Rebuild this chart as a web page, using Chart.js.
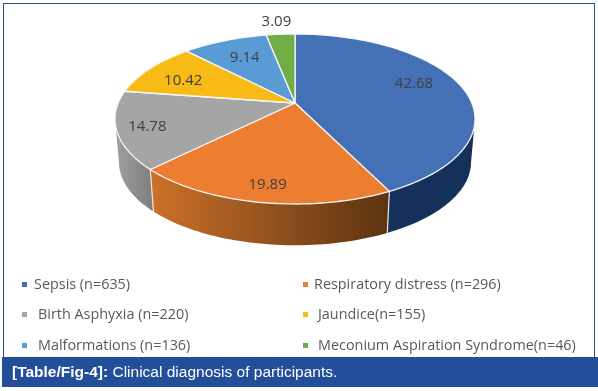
<!DOCTYPE html>
<html lang="en">
<head>
  <meta charset="UTF-8" />
  <title>Clinical diagnosis of participants</title>
  <script src="https://cdn.jsdelivr.net/npm/chart.js"></script>
  <style>
    html, body { margin: 0; padding: 0; background: white; }
    body { width: 598px; height: 391px; position: relative; overflow: hidden; }
    .frame {
      position: absolute; left: 3px; top: 3px; width: 590px; height: 354px;
      border: 1px solid #2c5288; border-bottom: none;
    }
    canvas { position: absolute; left: 0; top: 0; }
    .legendItem {
      position: absolute; font: 14.4px 'Open Sans', sans-serif; color: #595959;
      white-space: nowrap; line-height: 16px;
    }
    .legendMark { position: absolute; width: 5px; height: 5px; }
    .caption {
      position: absolute; left: 2px; top: 357px; width: 596px; height: 30px;
      background: #234e9a; color: white;
      font: 15.5px/30px 'Liberation Sans', Arial, sans-serif;
      text-indent: 10px; white-space: nowrap;
    }
  </style>
</head>
<body>
  <div class="frame"></div>
  <canvas id="pieChart" width="598" height="357"></canvas>
  <div id="legend"></div>
  <div class="caption"><b>[Table/Fig-4]:</b> Clinical diagnosis of participants.</div>

  <script>
    const categories = ['Sepsis (n=635)', 'Respiratory distress (n=296)', 'Birth Asphyxia (n=220)',
      'Jaundice(n=155)', 'Malformations (n=136)', 'Meconium Aspiration Syndrome(n=46)'];
    const percents = [42.68, 19.89, 14.78, 10.42, 9.14, 3.09];
    const faceColors = ['#4470b6', '#ed7d31', '#a5a5a5', '#f8ba14', '#5b9bd5', '#70ad47'];
    const wallLeft = ['#16305c', '#cb712a', '#a0a0a0', '#f8ba14', '#5b9bd5', '#70ad47'];
    const wallRight = ['#16305c', '#5c3311', '#7d7d7d', '#f8ba14', '#5b9bd5', '#70ad47'];

    // label nudges from the 0.7 radius point, the original has them placed by hand
    const labelNudge = [[2, -7], [-4, 17], [-25, 5], [-8, 2], [1, 0], [-8, -31]];

    // perspective of the disc, fitted to the picture
    const cx = 295, cy = 103, rx = 176.8, ry = 82, persp = -0.188;
    const floorY = 146.5, floorScale = 0.978;
    const wallCut = 0.19;

    function topPoint(a, f = 1) {
      const u = Math.cos(a) * f, v = Math.sin(a) * f, d = 1 + persp * v;
      return [cx + rx * u / d, cy + ry * v / d];
    }
    function floorPoint(a) {
      const u = Math.cos(a), v = Math.sin(a), d = 1 + persp * v;
      return [cx + floorScale * rx * u / d, floorY + floorScale * ry * v / d];
    }
    function arcPoints(fn, from, to) {
      const pts = [], n = Math.max(2, Math.ceil(Math.abs(to - from) * 40));
      for (let i = 0; i <= n; i++) pts.push(fn(from + (to - from) * i / n));
      return pts;
    }
    function tracePath(ctx, pts) {
      ctx.beginPath();
      pts.forEach((p, i) => i ? ctx.lineTo(p[0], p[1]) : ctx.moveTo(p[0], p[1]));
    }

    // draws the library's arcs as a 3d disc, angles come from the pie controller
    const disc3d = {
      id: 'disc3d',
      beforeDatasetsDraw(chart) {
        const ctx = chart.ctx;
        const arcs = chart.getDatasetMeta(0).data;
        ctx.save();
        ctx.lineJoin = 'round';

        // front wall
        arcs.forEach((arc, i) => {
          const from = Math.max(arc.startAngle, wallCut);
          const to = Math.min(arc.endAngle, Math.PI - wallCut);
          if (to <= from) return;
          const top = arcPoints(topPoint, from, to);
          const floor = arcPoints(floorPoint, from, to);
          const xs = top.concat(floor).map(p => p[0]);
          const grad = ctx.createLinearGradient(Math.min(...xs), 0, Math.max(...xs), 0);
          grad.addColorStop(0, wallLeft[i]);
          grad.addColorStop(1, wallRight[i]);
          tracePath(ctx, top.concat(floor.reverse()));
          ctx.closePath();
          ctx.fillStyle = grad;
          ctx.fill();
        });
        arcs.forEach(arc => {
          const a = arc.startAngle;
          if (a > wallCut && a < Math.PI - wallCut) {
            tracePath(ctx, [topPoint(a), floorPoint(a)]);
            ctx.strokeStyle = '#e8e8e8';
            ctx.lineWidth = 1.2;
            ctx.stroke();
          }
        });

        // top face
        arcs.forEach((arc, i) => {
          tracePath(ctx, [[cx, cy]].concat(arcPoints(topPoint, arc.startAngle, arc.endAngle)));
          ctx.closePath();
          ctx.fillStyle = faceColors[i];
          ctx.fill();
          ctx.strokeStyle = '#f6f6f6';
          ctx.lineWidth = 1.3;
          ctx.stroke();
        });

        // value labels
        ctx.font = "15px 'Open Sans', sans-serif";
        ctx.fillStyle = '#404040';
        ctx.textAlign = 'center';
        ctx.textBaseline = 'middle';
        arcs.forEach((arc, i) => {
          const p = topPoint((arc.startAngle + arc.endAngle) / 2, 0.7);
          ctx.fillText(percents[i].toFixed(2), p[0] + labelNudge[i][0], p[1] + labelNudge[i][1]);
        });
        ctx.restore();
        return false;
      }
    };

    new Chart(document.getElementById('pieChart').getContext('2d'), {
      type: 'pie',
      data: {
        labels: categories,
        datasets: [{ data: percents, backgroundColor: faceColors }]
      },
      options: {
        responsive: false,
        animation: false,
        plugins: { legend: { display: false }, tooltip: { enabled: false } }
      },
      plugins: [disc3d]
    });

    // legend in two columns like the original
    const legendX = [22, 303], legendTextX = [[34, 38, 38], [314, 318, 318]], legendY = [284, 314, 345];
    const legend = document.getElementById('legend');
    categories.forEach((name, i) => {
      const col = i % 2, row = Math.floor(i / 2);
      const mark = document.createElement('div');
      mark.className = 'legendMark';
      mark.style.cssText = `left:${legendX[col]}px;top:${legendY[row] - 2}px;background:${faceColors[i]}`;
      const text = document.createElement('div');
      text.className = 'legendItem';
      text.style.cssText = `left:${legendTextX[col][row]}px;top:${legendY[row] - 8}px`;
      text.textContent = name;
      legend.append(mark, text);
    });
  </script>
</body>
</html>
